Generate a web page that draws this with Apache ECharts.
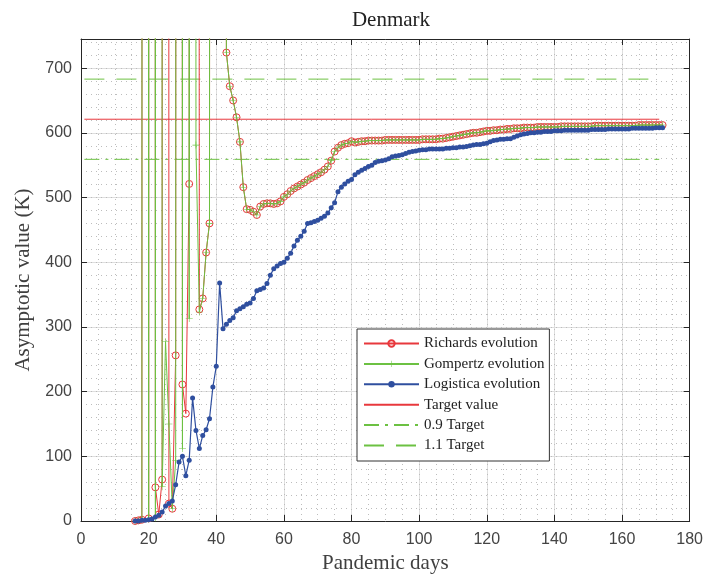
<!DOCTYPE html>
<html>
<head>
<meta charset="utf-8">
<script src="https://cdn.jsdelivr.net/npm/echarts@6/dist/echarts.min.js"></script>
<style>
  html, body { margin: 0; padding: 0; background: #fff; }
  #chart { width: 706px; height: 580px; }
</style>
</head>
<body>
<div id="chart"></div>
<script>
// first day of the evolution series, one value per day after that
const firstDay = 16;

// days 16-42: the fits blow up (values far above the axis) on some days
const richardsEarly = [
  0, 1, 2, 18400, 4, 26500, 52, 10, 64, 31200,
  27, 19, 256, 14700, 211, 166, 521, 22800, 9600, 327,
  344, 415, 460, 12500, 17300, 8400, 6900
];
const gompertzEarly = [
  0, 1, 2, 21700, 3, 15800, 5, 27400, 53, 277,
  150, 19, 93, 19600, 112, 24300, 313, 11800, 581, 323,
  344, 415, 460, 16100, 9800, 13400, 7600
];

// days 43-172
const richardsLate = [
  724, 672, 650, 624, 586, 516, 482, 481, 478, 473,
  486, 490, 491, 491, 490, 491, 494, 501, 505, 510,
  514, 517, 520, 523, 527, 530, 533, 536, 539, 543,
  548, 557, 571, 577, 581, 583, 584, 587, 585, 586,
  587, 587, 588, 588, 588, 588, 588, 589, 589, 589,
  589, 589, 589, 589, 589, 589, 589, 589, 590, 590,
  590, 590, 590, 591, 591, 592, 593, 594, 595, 596,
  597, 598, 599, 600, 600, 601, 602, 603, 603, 604,
  604, 605, 605, 606, 606, 607, 607, 607, 608, 608,
  608, 608, 609, 609, 609, 609, 609, 609, 609, 610,
  610, 610, 610, 610, 610, 610, 610, 610, 610, 611,
  611, 611, 611, 611, 611, 611, 611, 611, 611, 611,
  611, 611, 612, 612, 612, 612, 612, 612, 612, 612
];
// Gompertz sits right on top of Richards from day 43 on
const gompertzLate = richardsLate;

// days 16-172
const logistica = [
  0, 0, 1, 1, 2, 3, 6, 9, 14, 23,
  27, 31, 56, 91, 100, 70, 94, 190, 140, 112,
  132, 141, 158, 207, 239, 368, 297, 304, 310, 314,
  325, 328, 331, 335, 337, 344, 356, 358, 360, 367,
  380, 390, 394, 398, 400, 406, 414, 425, 434, 440,
  448, 460, 461, 463, 465, 468, 471, 476, 484, 492,
  509, 516, 521, 525, 528, 535, 539, 542, 545, 548,
  550, 554, 556, 557, 558, 560, 563, 564, 565, 566,
  568, 570, 571, 572, 573, 574, 574, 575, 575, 575,
  575, 575, 576, 576, 577, 577, 578, 578, 579, 580,
  581, 582, 582, 583, 584, 586, 588, 589, 590, 590,
  591, 591, 593, 595, 597, 598, 599, 600, 600, 601,
  601, 602, 602, 602, 603, 603, 603, 604, 604, 604,
  604, 604, 604, 604, 604, 605, 605, 605, 605, 605,
  606, 606, 606, 606, 606, 606, 606, 607, 607, 607,
  607, 607, 607, 607, 608, 608, 608
];

const targetDays = [1, 171];
const targetValue = 621;
const lowTarget = 559;
const highTarget = 683;

const RED = '#e8383d';
const GREEN = '#6cc142';
const BLUE = '#2f4f9f';
const AXIS = '#262626';

const chart = echarts.init(document.getElementById('chart'));

function toPairs(vals) {
  return vals.map((v, i) => [firstDay + i, v]);
}
function flat(v) {
  return targetDays.map(d => [d, v]);
}

const plusPath = 'path://M4.6,0h0.8v4.6h4.6v0.8h-4.6v4.6h-0.8v-4.6h-4.6v-0.8h4.6z';
const labelFont = { fontFamily: 'Liberation Sans', fontSize: 16, color: '#444' };
const nameFont = { fontFamily: 'Liberation Serif', fontSize: 21, color: '#404040' };
const noMarker = { color: 'rgba(0,0,0,0)', borderWidth: 0, opacity: 0 };

chart.setOption({
  animation: false,
  backgroundColor: '#fff',
  title: {
    text: 'Denmark',
    left: 386,
    top: 5,
    textAlign: 'center',
    textStyle: { fontFamily: 'Liberation Serif', fontSize: 21, fontWeight: 'normal', color: '#222' }
  },
  grid: { left: 81, right: 16, top: 39, bottom: 59 },
  legend: {
    orient: 'vertical',
    left: 357,
    top: 329,
    itemWidth: 55,
    itemHeight: 8,
    itemGap: 5.4,
    padding: [7, 5, 8, 6],
    backgroundColor: '#fff',
    borderColor: '#333',
    borderWidth: 1,
    textStyle: { fontFamily: 'Liberation Serif', fontSize: 15, color: '#222' },
    data: [
      'Richards evolution', 'Gompertz evolution', 'Logistica evolution',
      { name: 'Target value', itemStyle: noMarker },
      { name: '0.9 Target', itemStyle: noMarker },
      { name: '1.1 Target', itemStyle: noMarker }
    ]
  },
  xAxis: [
    {
      type: 'value', min: 0, max: 180, interval: 20, position: 'bottom',
      name: 'Pandemic days', nameLocation: 'middle', nameGap: 32, nameTextStyle: nameFont,
      axisLine: { show: true, onZero: false, lineStyle: { color: AXIS } },
      axisTick: { inside: true, length: 6, lineStyle: { color: AXIS } },
      axisLabel: Object.assign({ margin: 11 }, labelFont),
      splitLine: { show: true, lineStyle: { color: '#dedede' } }
    },
    {
      type: 'value', min: 0, max: 180, interval: 20, position: 'top',
      axisLine: { show: true, onZero: false, lineStyle: { color: AXIS } },
      axisTick: { inside: true, length: 6, lineStyle: { color: AXIS } },
      axisLabel: { show: false },
      splitLine: { show: false }
    },
    {
      type: 'value', min: 0, max: 180, interval: 5, position: 'top',
      axisLine: { show: false }, axisTick: { show: false }, axisLabel: { show: false },
      splitLine: { show: true, lineStyle: { color: '#bdbdbd', type: [1, 4] } }
    }
  ],
  yAxis: [
    {
      type: 'value', min: 0, max: 745, interval: 100, position: 'left',
      name: 'Asymptotic value (K)', nameLocation: 'middle', nameGap: 47, nameTextStyle: nameFont,
      axisLine: { show: true, onZero: false, lineStyle: { color: AXIS } },
      axisTick: { inside: true, length: 6, lineStyle: { color: AXIS } },
      axisLabel: Object.assign({ margin: 9, formatter: v => (v % 100 === 0 ? String(v) : '') }, labelFont),
      splitLine: { show: true, lineStyle: { color: '#dedede' } }
    },
    {
      type: 'value', min: 0, max: 745, interval: 100, position: 'right',
      axisLine: { show: true, onZero: false, lineStyle: { color: AXIS } },
      axisTick: { inside: true, length: 6, lineStyle: { color: AXIS } },
      axisLabel: { show: false },
      splitLine: { show: false }
    },
    {
      type: 'value', min: 0, max: 745, interval: 20, position: 'right',
      axisLine: { show: false }, axisTick: { show: false }, axisLabel: { show: false },
      splitLine: { show: true, lineStyle: { color: '#bdbdbd', type: [1, 4] } }
    }
  ],
  series: [
    {
      name: 'Richards evolution', type: 'line',
      data: toPairs(richardsEarly.concat(richardsLate)),
      symbol: 'circle', symbolSize: 7, showAllSymbol: true,
      lineStyle: { color: RED, width: 1 },
      itemStyle: { color: 'rgba(255,255,255,0)', borderColor: RED, borderWidth: 1 },
      z: 3
    },
    {
      name: 'Gompertz evolution', type: 'line',
      data: toPairs(gompertzEarly.concat(gompertzLate)),
      symbol: plusPath, symbolSize: 7, showAllSymbol: true,
      lineStyle: { color: GREEN, width: 1 },
      itemStyle: { color: GREEN },
      z: 4
    },
    {
      name: 'Logistica evolution', type: 'line',
      data: toPairs(logistica),
      symbol: 'circle', symbolSize: 5, showAllSymbol: true,
      lineStyle: { color: BLUE, width: 1.2 },
      itemStyle: { color: BLUE },
      z: 5
    },
    {
      name: 'Target value', type: 'line', data: flat(targetValue), symbol: 'none',
      lineStyle: { color: RED, width: 1 }, itemStyle: { color: RED }, z: 2
    },
    {
      name: '0.9 Target', type: 'line', data: flat(lowTarget), symbol: 'none',
      lineStyle: { color: GREEN, width: 1, type: [15, 6, 3, 6] }, itemStyle: { color: GREEN }, z: 2
    },
    {
      name: '1.1 Target', type: 'line', data: flat(highTarget), symbol: 'none',
      lineStyle: { color: GREEN, width: 1, type: [20, 12] }, itemStyle: { color: GREEN }, z: 2
    }
  ]
});
</script>
</body>
</html>
